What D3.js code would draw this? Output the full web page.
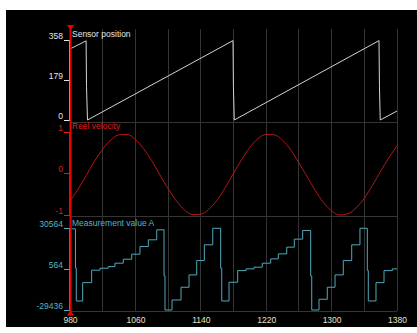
<!DOCTYPE html>
<head>
    <title>Sensor traces</title>
    <meta charset="utf-8">
    <style>
        body { margin: 0; background: #fff; }
        svg { display: block; }
        text { font-family: "Liberation Sans", Arial, sans-serif; font-size: 8.5px; }
        .grid line { stroke: #353535; stroke-width: 1; shape-rendering: crispEdges; }
        .trace { fill: none; stroke-width: 1; }
        .yaxis .domain, .yaxis .tick line { shape-rendering: crispEdges; }
    </style>
    <script src="https://cdn.jsdelivr.net/npm/d3@7"></script>
</head>
<body>
<svg width="417" height="333"></svg>
<script>

// x axis labels (every 80) and grid (every 40)
var xTicks = [980, 1060, 1140, 1220, 1300, 1380];
var xGrid = [1020, 1060, 1100, 1140, 1180, 1220, 1260, 1300, 1340, 1380];

// Sensor position (sawtooth, degrees)
var posTicks = [0, 179, 358];
var posT = [980, 999.7, 1000.2, 1001.4, 1179.4, 1179.9, 1180.9, 1358, 1358.5, 1359.5, 1380];
var posV = [316, 352, 150, 0, 353, 150, 0, 353, 155, 0, 40];

// Reel velocity
var velTicks = [-1, 0, 1];
var velT = [980, 990, 1000, 1010, 1020, 1030, 1040, 1050, 1060, 1070,
            1080, 1090, 1100, 1110, 1120, 1130, 1140, 1150, 1160, 1170,
            1180, 1190, 1200, 1210, 1220, 1230, 1240, 1250, 1260, 1270,
            1280, 1290, 1300, 1310, 1320, 1330, 1340, 1350, 1360, 1370, 1380];
var velV = [-0.67, -0.38, -0.05, 0.29, 0.58, 0.80, 0.92, 0.93, 0.81, 0.59,
            0.30, -0.04, -0.37, -0.66, -0.88, -0.99, -0.98, -0.86, -0.64, -0.34,
            0.00, 0.33, 0.62, 0.83, 0.93, 0.92, 0.79, 0.56, 0.25, -0.08,
            -0.41, -0.70, -0.90, -1.00, -0.97, -0.83, -0.60, -0.29, 0.05, 0.37, 0.66];

// Measurement value A (stepped)
var measTicks = [-29436, 564, 30564];
var measT = [980, 986.7, 987.7, 995.5, 1006.5, 1016.7, 1026.8, 1035, 1045.2, 1055.5,
             1065.6, 1075.8, 1086.1, 1095, 1096.2, 1104.8, 1115.8, 1125.6, 1135, 1144.3,
             1154.6, 1164.3, 1165.6, 1174.5, 1185.1, 1195.3, 1205.1, 1215.2, 1225.5, 1234.8,
             1245.1, 1254.4, 1264.6, 1274.4, 1275.7, 1284.6, 1294.7, 1304.2, 1314.3, 1324.6,
             1334.7, 1343.7, 1344.9, 1354.3, 1364.1, 1374.3, 1380];
var measV = [30196, 1264, -22810, -9338, -200, 1264, 2441, 4945, 7889, 11570,
             17165, 22098, 29460, -4400, -29436, -22074, -12724, -3669, 6859, 18417,
             30564, 1264, -22810, -9043, -503, 748, 2000, 4945, 8110, 11791,
             16724, 22613, 28945, -4405, -29436, -21559, -12724, -3669, 6859, 18417,
             30564, -356, -22810, -9338, -503, 748, 748];


var svg = d3.select("svg");

svg.append("rect")
    .attr("x", 6).attr("y", 10)
    .attr("width", 411).attr("height", 317)
    .attr("fill", "#000");

var x = d3.scaleLinear().domain([980, 1380]).range([70, 397]);

var panels = [
  {title: "Sensor position", label: "#e6e6e6", stroke: "#d4d4d4", t: posT, v: posV,
   ticks: posTicks, range: [120, 39.5], bottom: 122, curve: d3.curveLinear},
  {title: "Reel velocity", label: "#e21a1a", stroke: "#b81616", t: velT, v: velV,
   ticks: velTicks, range: [215, 131.5], bottom: 216, curve: d3.curveMonotoneX},
  {title: "Measurement value A", label: "#52b6cc", stroke: "#4fa9bd", t: measT, v: measV,
   ticks: measTicks, range: [310, 228.3], bottom: 311, curve: d3.curveStepAfter}
];

// plain hyphen minus, as in the source
var plain = function(d) { return String(d); };

// grid
var grid = svg.append("g").attr("class", "grid");
grid.selectAll(".v")
    .data(xGrid)
  .enter().append("line")
    .attr("x1", function(d) { return x(d); })
    .attr("x2", function(d) { return x(d); })
    .attr("y1", 29).attr("y2", 311);
grid.selectAll(".h")
    .data(panels)
  .enter().append("line")
    .attr("x1", 70).attr("x2", 397)
    .attr("y1", function(d) { return d.bottom; })
    .attr("y2", function(d) { return d.bottom; });

panels.forEach(function(p) {
  var y = d3.scaleLinear()
      .domain([p.ticks[0], p.ticks[p.ticks.length - 1]])
      .range(p.range);

  var line = d3.line()
      .x(function(d) { return x(d[0]); })
      .y(function(d) { return y(d[1]); })
      .curve(p.curve);

  svg.append("path")
      .datum(d3.zip(p.t, p.v))
      .attr("class", "trace")
      .attr("stroke", p.stroke)
      .attr("d", line);

  var ax = svg.append("g")
      .attr("class", "yaxis")
      .attr("transform", "translate(69,0)")
      .call(d3.axisLeft(y).tickValues(p.ticks).tickSize(5).tickPadding(1).tickFormat(plain));

  ax.select(".domain").attr("stroke", p.label);
  ax.selectAll(".tick line").attr("stroke", p.label);
  ax.selectAll(".tick text")
      .attr("fill", p.label)
      .attr("dy", "0")
      .attr("y", -1.5)
      .style("font-size", "8.5px")
      .style("font-family", "'Liberation Sans', Arial, sans-serif");

  svg.append("text")
      .attr("x", 72)
      .attr("y", p.range[1] - 2.5)
      .attr("fill", p.label)
      .text(p.title);
});

// x axis labels
var xa = svg.append("g")
    .attr("transform", "translate(0,311)")
    .call(d3.axisBottom(x).tickValues(xTicks).tickSize(0).tickPadding(6).tickFormat(plain));
xa.select(".domain").remove();
xa.selectAll(".tick text")
    .attr("fill", "#e8e4c6")
    .style("font-size", "8.5px")
    .style("font-family", "'Liberation Sans', Arial, sans-serif");

// red cursor at the start of the range
var cx = x(980) + 0.5;
svg.append("line")
    .attr("x1", cx).attr("x2", cx)
    .attr("y1", 27).attr("y2", 313)
    .attr("stroke", "#e80000")
    .attr("stroke-width", 2);
svg.append("path")
    .attr("d", "M" + (cx - 3.5) + ",25L" + (cx + 3.5) + ",25L" + cx + ",30Z")
    .attr("fill", "#e80000");
svg.append("path")
    .attr("d", "M" + (cx - 3.5) + ",315.5L" + (cx + 3.5) + ",315.5L" + cx + ",310Z")
    .attr("fill", "#e80000");

</script>
</body>
